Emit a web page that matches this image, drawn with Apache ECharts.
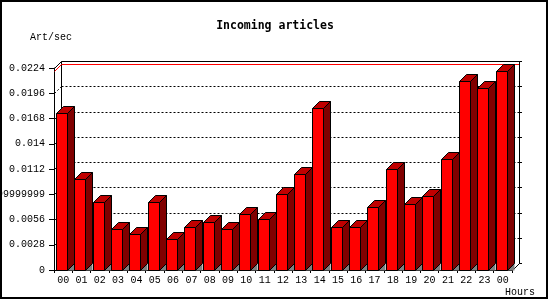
<!DOCTYPE html>
<html>
<head>
<meta charset="utf-8">
<script src="https://cdn.jsdelivr.net/npm/echarts@6/dist/echarts.min.js"></script>
<style>
html,body{margin:0;padding:0;background:#fff;}
#c{width:550px;height:300px;}
</style>
</head>
<body>
<div id="c"></div>
<script>
// ---- data ----
const hours = ['00','01','02','03','04','05','06','07','08','09','10','11','12','13','14','15','16','17','18','19','20','21','22','23','00'];
const artPerSec = [0.01738, 0.01006, 0.00754, 0.00451, 0.00396, 0.00754, 0.00340, 0.00473, 0.00532, 0.00451, 0.00617, 0.00562, 0.00839, 0.01061, 0.01793, 0.00473, 0.00473, 0.00695, 0.01117, 0.00728, 0.00817, 0.01227, 0.02096, 0.02015, 0.02207];
const yTickValues = [0, 0.0028, 0.0056, 0.0084, 0.0112, 0.014, 0.0168, 0.0196, 0.0224];
const yTickLabels = ['0', '0.0028', '0.0056', '0.00839999999999', '0.0112', '0.014', '0.0168', '0.0196', '0.0224'];
const yStep = 0.0028;
const yMax = 0.0224;
const titleText = 'Incoming articles';
const yName = 'Art/sec';
const xName = 'Hours';

// ---- style constants ----
const D = 7;            // 3D depth offset (px)
const FONT = '"Liberation Mono", "DejaVu Sans Mono", monospace';
const TITLE_FONT = '"DejaVu Sans Mono", monospace';

const chart = echarts.init(document.getElementById('c'), null, {renderer: 'canvas'});

function renderWall(params, api) {
  if (params.dataIndex !== 0) return;
  const bw = api.size([1, 0])[0];
  const p0 = api.coord([0, 0]);
  const left = Math.round(p0[0] - bw / 2);
  const right = Math.round(api.coord([hours.length - 1, 0])[0] + bw / 2);
  const bottom = Math.round(p0[1]);
  const top = Math.round(api.coord([0, yMax])[1]);
  const children = [];
  const blk = {stroke: '#000', lineWidth: 1, fill: null};
  const dot = {stroke: '#000', lineWidth: 1, lineDash: [2, 2], fill: null};
  for (let i = 1; i < yTickValues.length - 1; i++) {
    const y = Math.round(api.coord([0, yTickValues[i]])[1]);
    children.push({type: 'line', shape: {x1: left + D + 0.5, y1: y - D + 0.5, x2: right + D + 0.5, y2: y - D + 0.5}, style: dot, silent: true});
    children.push({type: 'line', shape: {x1: left + 0.5, y1: y + 0.5, x2: left + D + 0.5, y2: y - D + 0.5}, style: dot, silent: true});
  }
  for (let i = 0; i < yTickValues.length; i++) {
    const y = Math.round(api.coord([0, yTickValues[i]])[1]) - D;
    children.push({type: 'line', shape: {x1: right + D, y1: y + 0.5, x2: right + D + 3, y2: y + 0.5}, style: blk, silent: true});
  }
  children.push({type: 'polyline', shape: {points: [[left + 0.5, top + 0.5], [left + D + 0.5, top - D + 0.5], [right + D + 0.5, top - D + 0.5], [right + D + 0.5, bottom - D + 0.5], [right + 0.5, bottom + 0.5]]}, style: blk, silent: true});
  children.push({type: 'line', shape: {x1: left + D + 0.5, y1: top - D + 0.5, x2: left + D + 0.5, y2: bottom - D + 0.5}, style: blk, silent: true});
  const maxV = Math.max.apply(null, artPerSec);
  const ym = Math.round(api.coord([0, maxV])[1]);
  children.push({type: 'polyline', shape: {points: [[left + 0.5, ym + 0.5], [left + D + 0.5, ym - D + 0.5], [right + D, ym - D + 0.5]]}, style: {stroke: '#ff0000', lineWidth: 1, fill: null}, silent: true});
  return {type: 'group', children: children};
}

function renderBar(params, api) {
  const i = api.value(0);
  const v = api.value(1);
  const bw = api.size([1, 0])[0];
  const c = api.coord([i, v]);
  const z = api.coord([i, 0]);
  const bandStart = c[0] - bw / 2;
  const x0 = Math.floor(bandStart + 2.5) + 0.5;
  const x1 = x0 + 11;
  const yt = Math.round(c[1]) + 0.5;
  const yb = Math.round(z[1]) + 0.5;
  const st = {stroke: '#000', lineWidth: 1};
  return {
    type: 'group',
    children: [
      {type: 'polygon', shape: {points: [[x1, yb], [x1 + D, yb - D], [x1 + D, yb]]}, style: {fill: '#808080', stroke: null}},
      {type: 'polygon', shape: {points: [[x1, yt], [x1 + D, yt - D], [x1 + D, yb - D], [x1, yb]]}, style: Object.assign({fill: '#800000'}, st)},
      {type: 'polygon', shape: {points: [[x0, yt], [x0 + D, yt - D], [x1 + D, yt - D], [x1, yt]]}, style: Object.assign({fill: '#c00000'}, st)},
      {type: 'rect', shape: {x: x0, y: yt, width: x1 - x0, height: yb - yt}, style: Object.assign({fill: '#ff0000'}, st)}
    ]
  };
}

const option = {
  animation: false,
  backgroundColor: '#ffffff',
  title: {
    text: titleText,
    left: 'center',
    top: 20,
    padding: 0,
    textStyle: {fontFamily: TITLE_FONT, fontWeight: 'bold', fontSize: 11.5, color: '#000'}
  },
  grid: {left: 54, right: 38, top: 68, bottom: 30, containLabel: false, outerBoundsMode: 'none'},
  xAxis: {
    type: 'category',
    data: hours,
    boundaryGap: true,
    axisLine: {show: true, lineStyle: {color: '#000', width: 1}},
    axisTick: {show: true, length: 3, lineStyle: {color: '#000'}},
    axisLabel: {show: true, interval: 0, margin: 5, color: '#000', fontFamily: FONT, fontSize: 10, hideOverlap: false},
    splitLine: {show: false}
  },
  yAxis: {
    type: 'value',
    min: 0,
    max: yMax,
    interval: yStep,
    axisLine: {show: true, lineStyle: {color: '#000', width: 1}},
    axisTick: {show: true, length: 5, lineStyle: {color: '#000'}},
    axisLabel: {
      show: true, margin: 9, color: '#000', fontFamily: FONT, fontSize: 10, hideOverlap: false,
      formatter: function (v) { return yTickLabels[Math.round(v / yStep)]; }
    },
    splitLine: {show: false}
  },
  graphic: [
    {type: 'rect', shape: {x: 1, y: 1, width: 546, height: 297}, style: {fill: null, stroke: '#000', lineWidth: 2}, z: 100, silent: true},
    {type: 'text', x: 30, y: 37, style: {text: yName, fontFamily: FONT, fontSize: 10, fill: '#000', verticalAlign: 'middle', textAlign: 'left'}},
    {type: 'text', x: 505, y: 292, style: {text: xName, fontFamily: FONT, fontSize: 10, fill: '#000', verticalAlign: 'middle', textAlign: 'left'}}
  ],
  series: [
    {type: 'custom', name: 'wall', renderItem: renderWall, data: [[0, 0]], encode: {x: 0, y: 1}, z: 1, silent: true},
    {type: 'custom', name: 'bars', renderItem: renderBar, data: artPerSec.map(function (v, i) { return [i, v]; }), encode: {x: 0, y: 1}, z: 2, silent: true}
  ]
};
chart.setOption(option);
</script>
</body>
</html>
